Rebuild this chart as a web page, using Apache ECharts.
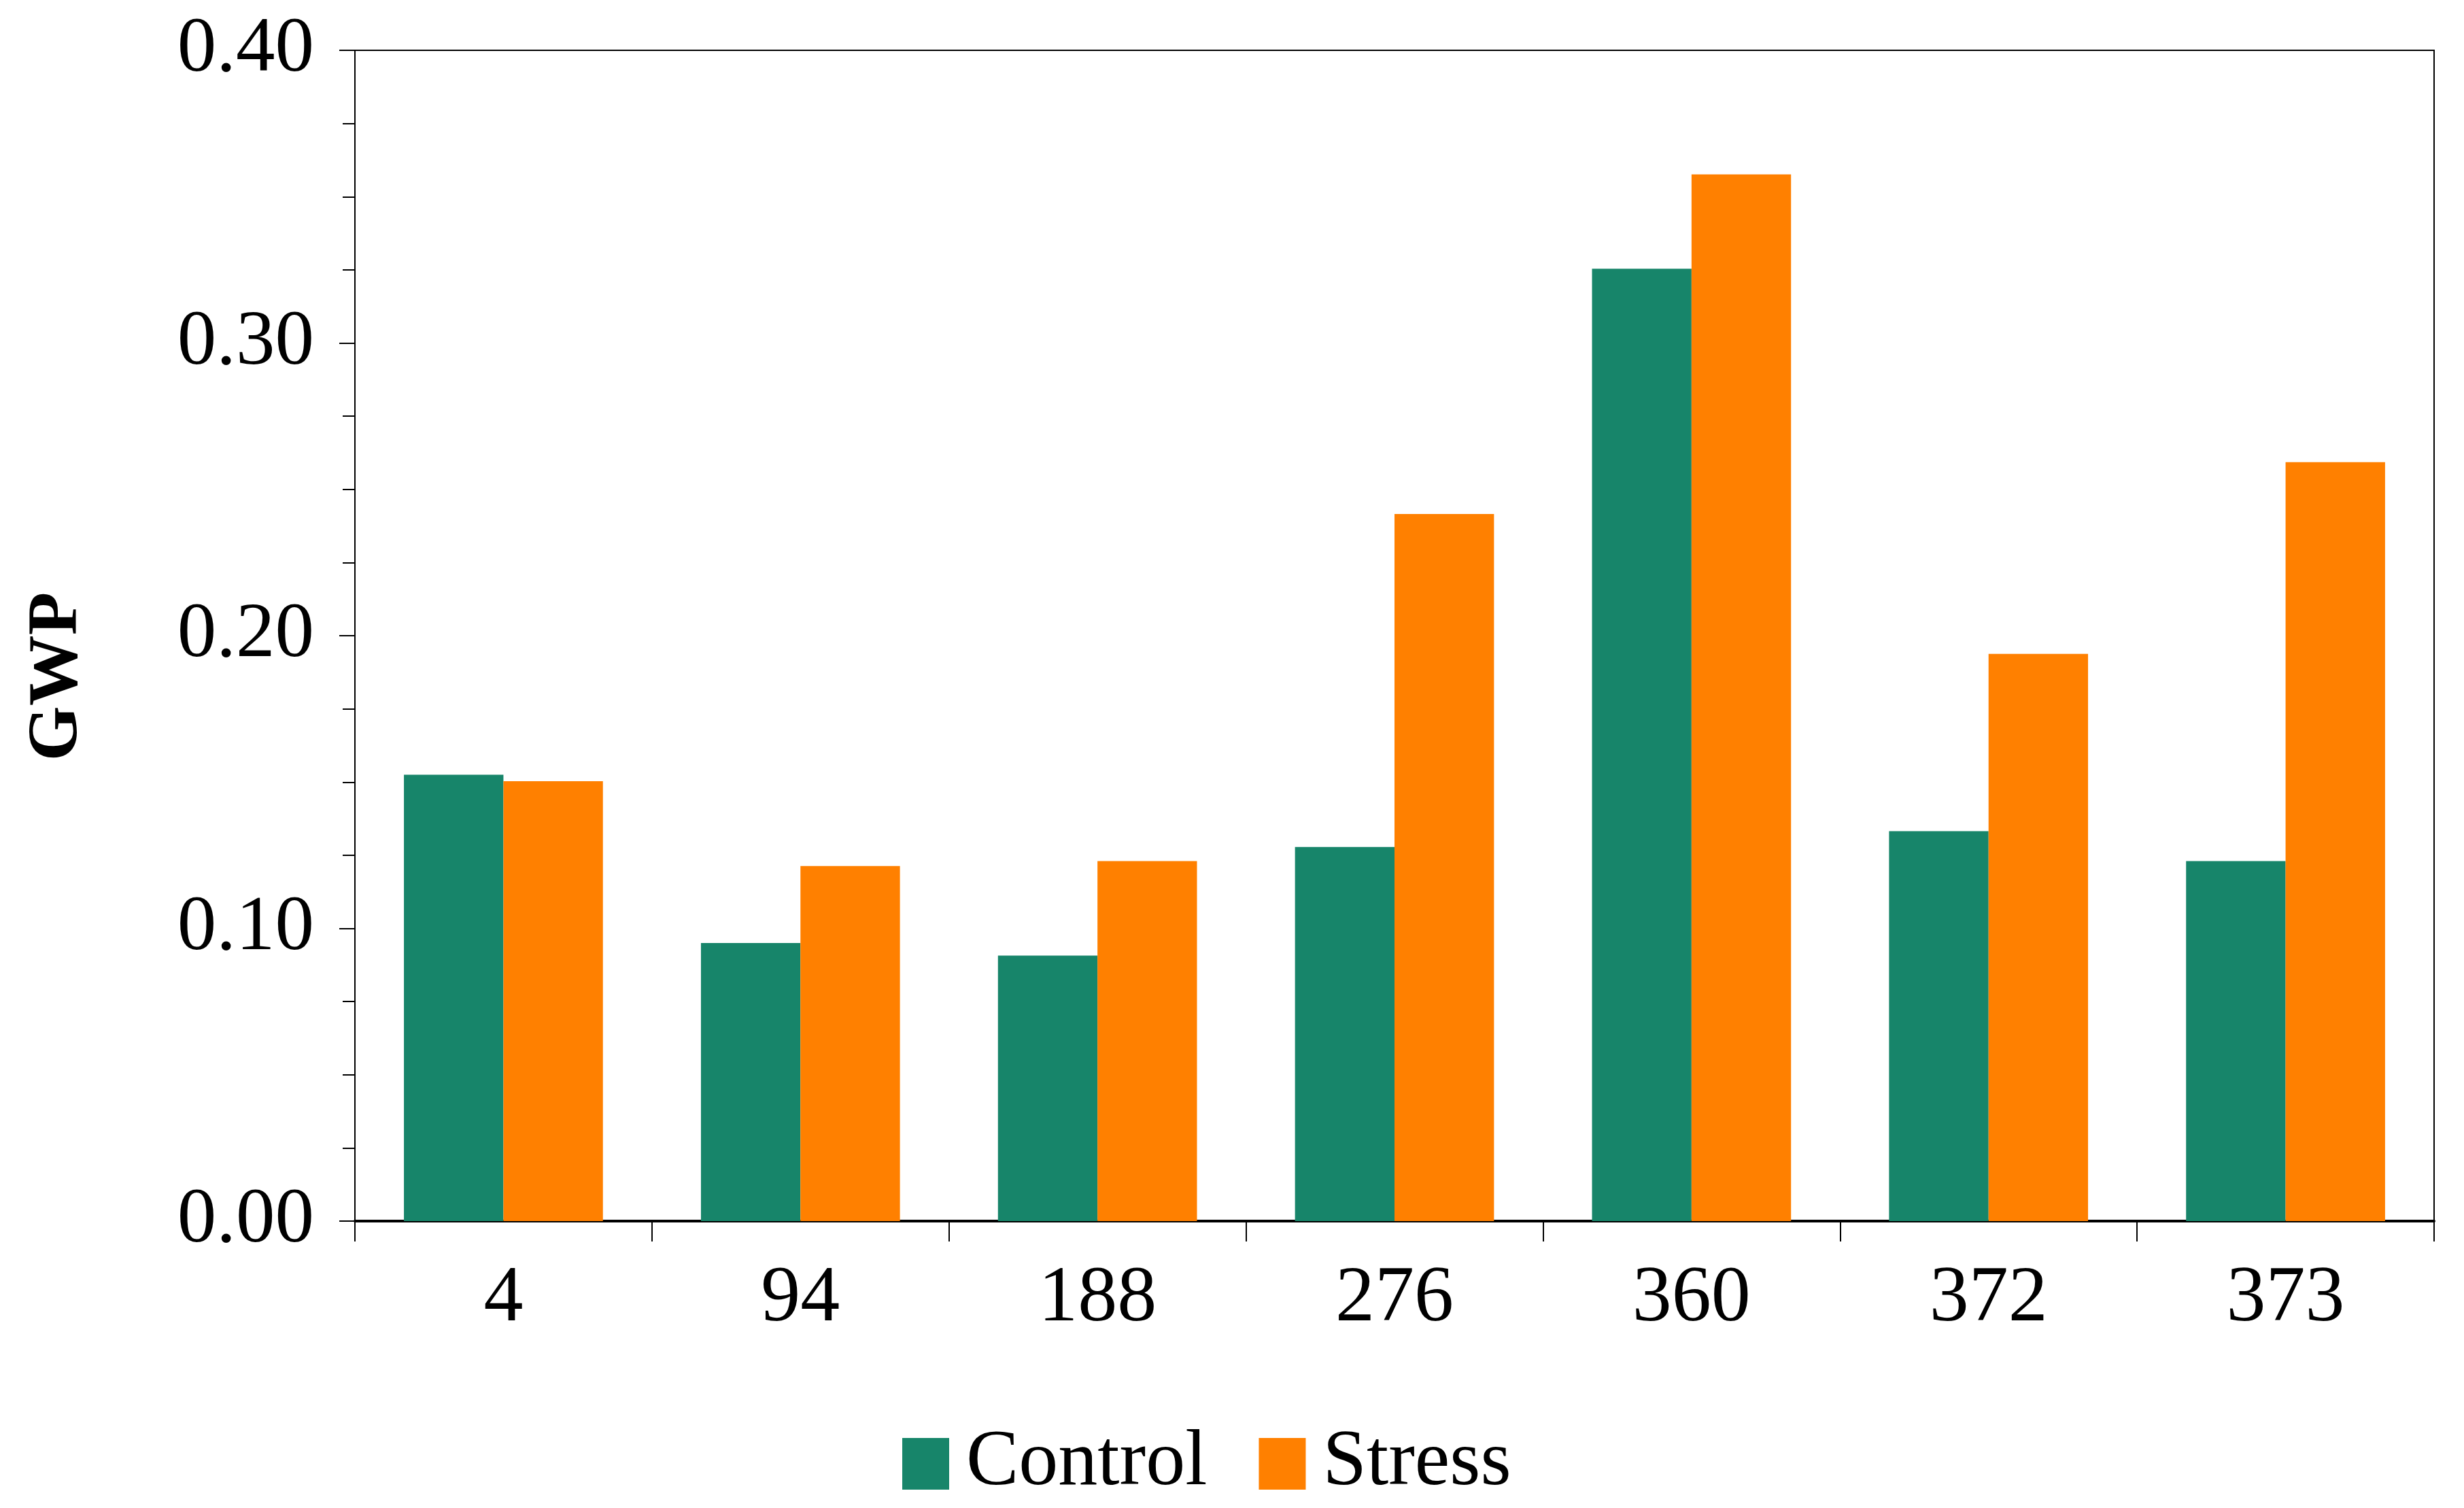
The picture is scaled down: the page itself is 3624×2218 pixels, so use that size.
<!DOCTYPE html>
<html>
<head>
<meta charset="utf-8">
<script src="https://cdn.jsdelivr.net/npm/echarts@6/dist/echarts.min.js"></script>
<style>html,body{margin:0;padding:0;background:#fff;}#c{width:3624px;height:2218px;}</style>
</head>
<body>
<div id="c"></div>
<script>
const categories = ['4', '94', '188', '276', '360', '372', '373'];
const controlValues = [0.1525, 0.095, 0.0907, 0.1278, 0.3254, 0.1332, 0.123];
const stressValues = [0.1503, 0.1213, 0.123, 0.2416, 0.3576, 0.1938, 0.2593];
const yTicks = [0, 0.1, 0.2, 0.3, 0.4];

const FONT = 'Liberation Serif';
const chart = echarts.init(document.getElementById('c'), null, {renderer: 'canvas'});
chart.setOption({
  backgroundColor: '#ffffff',
  animation: false,
  textStyle: {fontFamily: FONT, color: '#000'},
  grid: {left: 522, right: 44, top: 74, bottom: 422, show: true, borderColor: '#000', borderWidth: 2, backgroundColor: 'transparent'},
  legend: {
    data: ['Control', 'Stress'],
    left: 1322, top: 2090,
    itemWidth: 69, itemHeight: 76, itemGap: 76,
    icon: 'rect',
    textStyle: {fontFamily: FONT, fontSize: 116, color: '#000', padding: [0, 0, 0, 20]}
  },
  xAxis: {
    type: 'category',
    data: categories,
    boundaryGap: true,
    axisLine: {show: true, lineStyle: {color: '#000', width: 4}},
    axisTick: {show: true, alignWithLabel: false, length: 30, lineStyle: {color: '#000', width: 2}},
    axisLabel: {fontFamily: FONT, fontSize: 116, color: '#000', margin: 58},
    splitLine: {show: false}
  },
  yAxis: {
    type: 'value',
    min: 0, max: 0.4, interval: 0.1,
    name: 'GWP',
    nameLocation: 'middle',
    nameGap: 385,
    nameRotate: 90,
    nameTextStyle: {fontFamily: FONT, fontSize: 104, fontWeight: 'bold', color: '#000', padding: [0, 120, 0, 0]},
    axisLine: {show: true, lineStyle: {color: '#000', width: 2}},
    axisTick: {show: true, length: 23, lineStyle: {color: '#000', width: 2}},
    minorTick: {show: true, splitNumber: 4, length: 18, lineStyle: {color: '#000', width: 2}},
    axisLabel: {
      fontFamily: FONT, fontSize: 115, color: '#000', margin: 60,
      formatter: v => { const t = yTicks.find(x => Math.abs(x - v) < 1e-9); return (t !== undefined ? t : v).toFixed(2); }
    },
    splitLine: {show: false}
  },
  series: [
    {name: 'Control', type: 'bar', data: controlValues, barGap: '0%', barCategoryGap: '33%', itemStyle: {color: '#17856A'}},
    {name: 'Stress', type: 'bar', data: stressValues, barGap: '0%', barCategoryGap: '33%', itemStyle: {color: '#FF8000'}}
  ]
});
</script>
</body>
</html>
